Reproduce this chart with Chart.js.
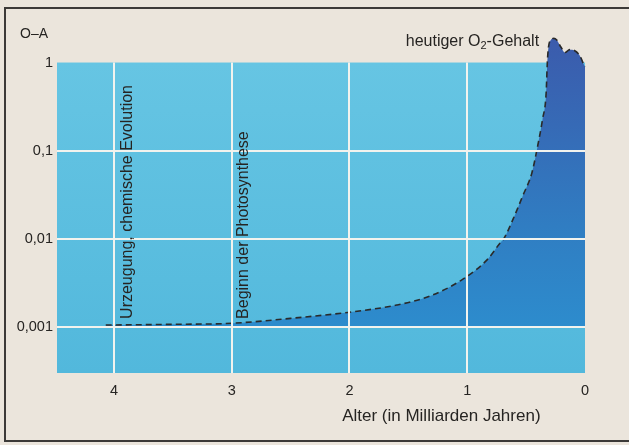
<!DOCTYPE html>
<html>
<head>
<meta charset="utf-8">
<script src="https://cdn.jsdelivr.net/npm/chart.js@4/dist/chart.umd.min.js"></script>
<style>
html,body{margin:0;padding:0;background:#ebe5dc;}
#wrap{position:relative;width:629px;height:445px;overflow:hidden;background:#ebe5dc;}
#frame{position:absolute;left:4px;top:7px;width:660px;height:435px;border:2px solid #3c3a38;box-sizing:border-box;}
canvas{position:absolute;left:0;top:0;}
</style>
</head>
<body>
<div id="wrap"><div id="frame"></div><canvas id="c" width="629" height="445"></canvas></div>
<script>
// ---- data ----
const ages = [4.07, 3.5, 3.0, 2.5, 2.0, 1.6, 1.32, 1.04, 0.83, 0.72, 0.69, 0.61, 0.53, 0.45, 0.41, 0.36, 0.33, 0.32, 0.31, 0.29, 0.265, 0.24, 0.205, 0.17, 0.13, 0.09, 0.045, 0.01, 0.0];
const o2Level = [0.00105, 0.00107, 0.0011, 0.00125, 0.00147, 0.00177, 0.00223, 0.00346, 0.0058, 0.009, 0.01, 0.0168, 0.0304, 0.0566, 0.1, 0.229, 0.449, 1.0, 1.5, 1.8, 1.88, 1.8, 1.5, 1.3, 1.4, 1.37, 1.2, 0.95, 0.9];
const xTicks = [4, 3, 2, 1, 0];
const xTickLabels = ['4', '3', '2', '1', '0'];
const yTicks = [0.001, 0.01, 0.1, 1];
const yTickLabels = ['0,001', '0,01', '0,1', '1'];
const xTitle = 'Alter (in Milliarden Jahren)';
const yTitle = 'O–A';
const events = [
  {age: 4, text: 'Urzeugung, chemische Evolution', off: 18},
  {age: 3, text: 'Beginn der Photosynthese', off: 16}
];
const FONT = '"Liberation Sans", Arial, sans-serif';
const TEXT = '#262422';
const GRID = '#f2f3ee';

const deco = {
  id: 'deco',
  beforeDatasetsDraw(chart) {
    const {ctx, chartArea: a, scales: {y}} = chart;
    const top = y.getPixelForValue(1);
    const g = ctx.createLinearGradient(0, top, 0, a.bottom);
    g.addColorStop(0, '#66c5e3');
    g.addColorStop(1, '#52b8dc');
    ctx.save();
    ctx.fillStyle = g;
    ctx.fillRect(a.left, top, a.right - a.left, a.bottom - top);
    ctx.restore();
  },
  afterDatasetsDraw(chart) {
    const {ctx, chartArea: a, scales: {x, y}} = chart;
    const top = y.getPixelForValue(1);
    ctx.save();
    ctx.strokeStyle = GRID;
    ctx.lineWidth = 2;
    ctx.beginPath();
    x.ticks.forEach(t => {
      if (t.value === 0) return;
      const px = Math.round(x.getPixelForValue(t.value));
      ctx.moveTo(px, top);
      ctx.lineTo(px, a.bottom);
    });
    y.ticks.forEach(t => {
      if (t.value === 1) return;
      const py = Math.round(y.getPixelForValue(t.value));
      ctx.moveTo(a.left, py);
      ctx.lineTo(a.right, py);
    });
    ctx.stroke();
    ctx.restore();
  },
  afterDraw(chart) {
    const {ctx, scales: {x, y}} = chart;
    ctx.save();
    ctx.fillStyle = TEXT;
    // y title
    ctx.font = '14px ' + FONT;
    ctx.textAlign = 'left';
    ctx.textBaseline = 'middle';
    ctx.fillText(yTitle, 20, 34);
    // x title
    ctx.font = '17px ' + FONT;
    ctx.textAlign = 'center';
    ctx.fillText(xTitle, x.getPixelForValue(1.22), 416);
    // event labels (rotated)
    ctx.font = '16px ' + FONT;
    ctx.textAlign = 'left';
    ctx.textBaseline = 'alphabetic';
    events.forEach(e => {
      ctx.save();
      ctx.translate(x.getPixelForValue(e.age) + e.off, y.getPixelForValue(0.001) - 8);
      ctx.rotate(-Math.PI / 2);
      ctx.fillText(e.text, 0, 0);
      ctx.restore();
    });
    // heutiger O2-Gehalt
    const right = x.getPixelForValue(0.39);
    const base = 46;
    ctx.font = '16px ' + FONT;
    const p1 = 'heutiger O', p3 = '-Gehalt';
    const w1 = ctx.measureText(p1).width, w3 = ctx.measureText(p3).width;
    ctx.font = '11px ' + FONT;
    const w2 = ctx.measureText('2').width;
    const sx = right - (w1 + w2 + w3);
    ctx.font = '16px ' + FONT;
    ctx.fillText(p1, sx, base);
    ctx.font = '11px ' + FONT;
    ctx.fillText('2', sx + w1, base + 3);
    ctx.font = '16px ' + FONT;
    ctx.fillText(p3, sx + w1 + w2, base);
    ctx.restore();
  }
};

const points = ages.map((a, i) => ({x: a, y: o2Level[i]}));

new Chart(document.getElementById('c'), {
  type: 'line',
  data: {
    datasets: [{
      data: points,
      borderColor: '#2a2a2a',
      borderWidth: 1.6,
      borderDash: [6, 4],
      pointRadius: 0,
      cubicInterpolationMode: 'monotone',
      clip: false,
      fill: {target: {value: 0.001}},
      backgroundColor: (context) => {
        const {chart} = context;
        const {ctx, chartArea, scales} = chart;
        if (!chartArea || !scales.y) return '#3272bb';
        const g = ctx.createLinearGradient(0, scales.y.getPixelForValue(0.001), 0, scales.y.getPixelForValue(1.9));
        g.addColorStop(0, '#2d8ccd');
        g.addColorStop(0.35, '#307dc2');
        g.addColorStop(0.7, '#366ab6');
        g.addColorStop(1, '#3b5bac');
        return g;
      }
    }]
  },
  options: {
    responsive: false,
    animation: false,
    layout: {padding: {top: 36, right: 44, left: 0, bottom: 0}},
    plugins: {legend: {display: false}, tooltip: {enabled: false}},
    scales: {
      x: {
        type: 'linear', reverse: true, min: 0, max: 4.484,
        afterBuildTicks: s => { s.ticks = xTicks.map(v => ({value: v})); },
        afterFit: s => { s.height = 72; },
        ticks: {
          callback: v => xTickLabels[xTicks.indexOf(v)],
          font: {size: 14.5, family: FONT}, color: TEXT, padding: 9,
          maxRotation: 0, autoSkip: false
        },
        grid: {display: false, drawTicks: false},
        border: {display: false}
      },
      y: {
        type: 'logarithmic', min: 0.000331, max: 2,
        afterBuildTicks: s => { s.ticks = yTicks.map(v => ({value: v})); },
        afterFit: s => { s.width = 57; },
        ticks: {
          callback: v => yTickLabels[yTicks.indexOf(v)],
          font: {size: 14.5, family: FONT}, color: TEXT, padding: 4,
          autoSkip: false
        },
        grid: {display: false, drawTicks: false},
        border: {display: false}
      }
    }
  },
  plugins: [deco]
});
</script>
</body>
</html>
